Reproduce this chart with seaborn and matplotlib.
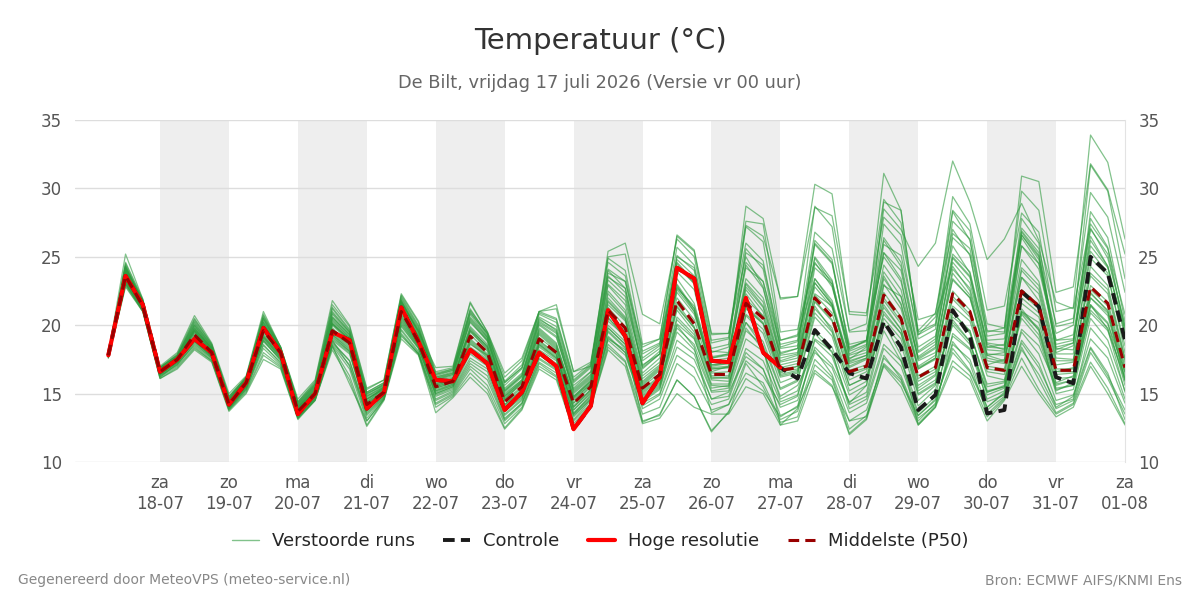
import pandas as pd
import seaborn as sns
import matplotlib.pyplot as plt
from matplotlib.lines import Line2D

# uren na vr 17-07 00 uur, stappen van 6 uur (06 uur t/m za 01-08 00 uur)
hours = list(range(6, 361, 6))

day_names = ['za', 'zo', 'ma', 'di', 'wo', 'do', 'vr', 'za', 'zo', 'ma', 'di', 'wo', 'do', 'vr', 'za']
day_dates = ['18-07', '19-07', '20-07', '21-07', '22-07', '23-07', '24-07', '25-07',
             '26-07', '27-07', '28-07', '29-07', '30-07', '31-07', '01-08']

# hoge resolutie loopt tot ma 27-07 00 uur
hires = [17.8, 23.6, 21.5, 16.6, 17.5, 19.0, 18.0, 14.2, 15.8, 19.8, 18.0, 13.5, 15.0, 19.5,
         18.9, 13.9, 15.1, 21.3, 18.8, 16.0, 15.9, 18.2, 17.2, 13.8, 15.1, 18.0, 17.0, 12.4,
         14.1, 21.1, 19.2, 14.3, 16.2, 24.2, 23.4, 17.4, 17.3, 22.0, 18.0, 16.9]

control = [17.8, 23.6, 21.5, 16.6, 17.5, 19.0, 18.0, 14.2, 15.8, 19.8, 18.0, 13.5, 15.0, 19.5,
           18.9, 13.9, 15.1, 21.3, 18.8, 16.0, 15.9, 18.2, 17.2, 13.8, 15.1, 18.0, 17.0, 12.4,
           14.1, 21.1, 19.2, 14.3, 16.2, 24.2, 23.4, 17.4, 17.3, 22.0, 18.0, 16.9, 16.1, 19.65,
           18.2, 16.5, 16.1, 20.25, 18.4, 13.8, 14.9, 21.1, 19.2, 13.55, 13.8, 22.45, 21.35,
           16.2, 15.75, 25.0, 23.8, 18.9]

median = [17.8, 23.6, 21.4, 16.6, 17.5, 19.3, 18.0, 14.2, 15.8, 19.6, 18.0, 13.7, 15.0, 19.6,
          18.7, 14.2, 15.1, 21.0, 18.8, 15.5, 15.9, 19.2, 18.0, 14.4, 15.5, 19.0, 18.0, 14.3,
          15.5, 21.1, 19.8, 15.4, 16.4, 21.8, 20.1, 16.4, 16.4, 21.6, 20.5, 16.7, 16.9, 22.0,
          20.6, 16.6, 17.0, 22.2, 20.5, 16.2, 16.9, 22.3, 21.0, 16.9, 16.7, 22.5, 21.4, 16.7,
          16.7, 22.8, 21.6, 16.9]

# verstoorde runs (per dag: 00, 06, 12, 18 uur)
runs = [
    [17.8, 23.9, 21.6, 16.7, 17.6, 19.6, 18.2, 14.4, 15.9, 19.9, 18.1, 13.9, 15.2, 20.1, 18.9,
     14.4, 15.3, 21.4, 19.1, 15.8, 16.1, 19.8, 18.4, 14.8, 15.9, 19.6, 18.5, 14.7, 15.9, 22.0, 20.6,
     15.9, 17.0, 22.9, 21.0, 17.0, 17.2, 23.0, 21.4, 17.3, 17.6, 23.4, 21.8, 17.4, 17.8, 23.6, 21.5,
     16.8, 17.5, 23.8, 22.2, 17.6, 17.3, 24.0, 22.6, 17.4, 17.4, 24.3, 22.9, 17.6],
    [17.7, 23.0, 21.1, 16.3, 17.1, 18.6, 17.6, 13.9, 15.4, 18.5, 17.3, 13.3, 14.6, 18.7, 17.4,
     13.4, 14.7, 19.6, 18.0, 14.6, 15.2, 17.4, 16.6, 13.2, 14.3, 17.6, 16.8, 13.1, 14.5, 19.0, 18.2,
     14.1, 14.9, 18.4, 17.5, 14.6, 14.8, 18.3, 17.4, 14.4, 14.9, 19.0, 18.1, 13.9, 14.6, 18.6, 17.4,
     14.1, 15.3, 19.2, 18.2, 14.6, 15.2, 19.5, 17.9, 14.5, 14.9, 19.0, 17.6, 14.3],
    [17.9, 24.2, 21.8, 16.9, 17.8, 20.1, 18.5, 14.6, 16.1, 20.3, 18.3, 14.0, 15.4, 20.6, 19.3,
     14.8, 15.5, 21.8, 19.4, 16.0, 16.4, 20.5, 19.0, 15.2, 16.3, 20.2, 19.4, 15.1, 16.2, 23.5, 22.7,
     16.8, 17.9, 24.8, 23.6, 17.6, 17.9, 25.6, 24.1, 18.3, 18.5, 26.2, 24.8, 18.1, 18.6, 27.4, 25.9,
     19.0, 19.7, 28.3, 26.2, 20.1, 19.8, 29.8, 28.4, 21.0, 21.3, 33.9, 31.9, 26.3],
    [17.6, 22.9, 21.0, 16.1, 16.9, 18.3, 17.4, 13.8, 15.1, 17.8, 16.9, 13.2, 14.5, 18.4, 16.3,
     12.7, 14.6, 19.3, 17.9, 14.0, 14.8, 16.5, 15.3, 12.5, 13.9, 17.0, 16.2, 12.4, 14.0, 18.4, 17.3,
     13.0, 13.4, 16.0, 14.8, 12.3, 13.6, 17.2, 15.5, 12.9, 13.3, 17.1, 16.0, 12.1, 13.2, 17.8, 16.1,
     13.0, 14.3, 18.6, 17.5, 14.0, 15.1, 21.0, 20.2, 15.8, 16.3, 21.5, 19.7, 15.1],
    [17.8, 24.6, 21.9, 16.9, 17.9, 20.5, 18.6, 14.8, 16.2, 20.7, 18.4, 14.4, 15.8, 21.3, 19.7,
     15.1, 15.8, 22.0, 19.9, 16.2, 16.6, 21.0, 19.2, 15.6, 16.8, 20.6, 19.9, 15.8, 16.9, 25.4, 26.0,
     20.8, 20.1, 26.3, 25.0, 18.9, 19.1, 27.6, 27.4, 19.5, 19.7, 24.6, 22.8, 18.3, 18.9, 25.3, 23.4,
     17.4, 18.0, 24.9, 23.5, 18.7, 18.5, 25.8, 24.1, 18.9, 19.0, 26.5, 24.3, 19.4],
    [17.8, 23.3, 21.3, 16.5, 17.4, 19.0, 17.9, 14.1, 15.7, 19.2, 17.8, 13.6, 14.9, 19.3, 18.3,
     14.0, 15.0, 20.6, 18.6, 15.3, 15.7, 18.7, 17.6, 14.1, 15.2, 18.5, 17.6, 14.0, 15.2, 20.3, 19.2,
     15.0, 16.0, 21.1, 19.5, 16.0, 15.9, 20.8, 19.7, 16.2, 16.5, 21.2, 19.8, 16.0, 16.6, 21.5, 19.7,
     15.6, 16.4, 21.4, 20.3, 16.3, 16.0, 21.6, 20.6, 16.1, 16.2, 22.0, 20.9, 16.4],
    [17.9, 24.0, 21.7, 16.8, 17.7, 19.8, 18.3, 14.5, 16.0, 20.1, 18.2, 14.1, 15.5, 20.4, 19.1,
     14.6, 15.4, 21.7, 19.6, 16.2, 16.5, 20.2, 18.9, 15.0, 16.0, 20.0, 19.1, 15.3, 16.4, 23.0, 21.8,
     17.1, 17.9, 25.1, 24.0, 18.0, 18.4, 28.7, 27.8, 21.9, 22.1, 30.3, 29.6, 20.8, 20.7, 29.2, 27.5,
     19.6, 20.9, 27.0, 25.1, 19.2, 19.4, 26.6, 25.0, 18.6, 18.9, 25.8, 24.2, 19.7],
    [17.7, 23.2, 21.2, 16.4, 17.3, 18.9, 17.8, 14.0, 15.6, 19.0, 17.6, 13.5, 14.8, 19.0, 18.0,
     13.9, 14.9, 20.1, 18.4, 15.0, 15.5, 18.1, 17.3, 13.8, 14.9, 18.2, 17.4, 13.6, 14.8, 19.8, 18.6,
     14.4, 15.3, 19.5, 18.2, 15.1, 15.2, 19.0, 18.1, 14.8, 15.6, 18.2, 16.4, 13.0, 13.8, 17.2, 16.0,
     12.8, 14.1, 17.4, 16.3, 13.3, 14.6, 17.6, 15.3, 13.5, 14.2, 17.3, 15.4, 12.8],
    [17.8, 24.4, 21.5, 16.6, 17.5, 19.5, 18.0, 14.3, 15.8, 19.8, 18.0, 13.8, 15.1, 20.0, 18.8,
     14.3, 15.2, 21.1, 18.9, 15.6, 16.0, 19.5, 18.3, 14.6, 15.7, 19.4, 18.3, 14.5, 15.7, 21.7, 20.4,
     15.6, 16.7, 22.6, 21.0, 16.8, 16.9, 23.1, 21.7, 17.4, 17.8, 24.5, 23.2, 18.2, 18.9, 28.5, 27.0,
     24.3, 26.0, 32.0, 29.0, 24.8, 26.3, 28.9, 26.2, 21.7, 21.2, 27.4, 25.6, 20.8],
    [17.7, 23.4, 21.2, 16.4, 17.3, 18.8, 17.7, 14.0, 15.5, 18.9, 17.5, 13.4, 14.8, 18.9, 17.0,
     13.5, 14.8, 19.9, 18.3, 14.9, 15.4, 17.9, 17.0, 13.5, 14.6, 18.0, 17.1, 13.4, 14.6, 19.2, 18.0,
     14.6, 15.5, 20.4, 19.1, 15.4, 15.6, 20.2, 18.8, 15.4, 16.0, 20.9, 19.5, 15.6, 16.2, 20.8, 19.4,
     15.2, 16.0, 20.6, 19.6, 15.5, 15.8, 20.8, 19.3, 15.4, 15.6, 21.1, 19.8, 15.9],
    [17.9, 24.1, 21.6, 16.7, 17.6, 19.7, 18.3, 14.5, 16.0, 20.0, 18.2, 14.0, 15.3, 20.2, 19.0,
     14.5, 15.5, 21.5, 19.2, 15.9, 16.2, 19.9, 18.6, 14.9, 16.0, 19.8, 18.7, 14.8, 16.0, 22.3, 20.9,
     16.1, 17.1, 23.4, 21.6, 17.1, 17.2, 23.4, 22.0, 17.8, 18.0, 24.9, 23.0, 17.9, 18.5, 25.3, 24.0,
     18.0, 18.8, 26.7, 25.6, 19.6, 19.5, 30.9, 30.5, 22.4, 22.8, 31.8, 29.9, 25.2],
    [17.8, 23.5, 21.4, 16.5, 17.4, 19.2, 17.9, 14.2, 15.7, 19.4, 17.9, 13.7, 14.9, 19.5, 18.5,
     14.1, 15.1, 20.7, 18.6, 15.4, 15.8, 18.6, 17.8, 14.0, 15.1, 18.8, 17.9, 13.8, 15.0, 20.6, 19.0,
     12.9, 13.5, 16.0, 14.8, 12.2, 13.7, 16.1, 15.2, 13.3, 14.1, 18.4, 17.1, 14.4, 15.1, 20.1, 18.6,
     14.5, 15.6, 21.0, 19.4, 15.7, 15.9, 20.5, 19.0, 15.2, 15.8, 20.9, 19.6, 16.2],
    [17.9, 24.3, 21.8, 16.9, 17.8, 20.2, 18.4, 14.7, 16.1, 20.5, 18.3, 14.3, 15.7, 21.0, 19.5,
     14.9, 15.7, 21.9, 19.8, 16.1, 16.5, 20.8, 19.1, 15.4, 16.5, 20.5, 19.6, 15.6, 16.6, 24.0, 22.7,
     17.4, 18.3, 24.6, 23.2, 18.1, 18.0, 24.4, 22.7, 17.9, 18.3, 25.9, 24.5, 18.6, 18.9, 26.4, 24.6,
     18.4, 19.2, 25.2, 23.9, 18.6, 18.2, 27.8, 26.0, 18.0, 18.5, 28.3, 26.4, 20.3],
    [17.7, 23.1, 21.1, 16.2, 17.2, 18.5, 17.5, 13.9, 15.3, 18.3, 17.1, 13.2, 14.6, 18.5, 16.8,
     13.0, 14.6, 19.4, 17.9, 14.3, 15.0, 17.0, 16.0, 13.0, 14.2, 17.3, 16.5, 12.8, 14.2, 18.9, 17.8,
     14.3, 15.0, 18.9, 17.9, 14.6, 15.1, 17.7, 16.8, 13.4, 14.0, 16.7, 15.6, 12.0, 13.1, 17.1, 15.8,
     13.4, 14.5, 18.3, 16.7, 14.0, 15.0, 18.9, 17.2, 14.0, 14.8, 18.4, 16.5, 13.1],
    [17.8, 23.7, 21.4, 16.6, 17.5, 19.4, 18.1, 14.2, 15.8, 19.5, 18.1, 13.7, 15.0, 19.7, 18.7,
     14.2, 15.2, 21.1, 18.8, 15.5, 15.9, 19.3, 18.1, 14.5, 15.5, 19.1, 18.1, 14.3, 15.6, 21.3, 19.9,
     15.5, 16.5, 22.0, 20.4, 16.5, 16.6, 21.9, 20.7, 16.8, 17.0, 22.2, 20.9, 16.7, 17.1, 22.4, 20.6,
     16.3, 17.0, 22.5, 21.1, 17.0, 16.8, 22.6, 21.5, 16.8, 16.8, 22.9, 21.7, 17.0],
    [17.8, 24.0, 21.7, 16.8, 17.7, 20.0, 18.4, 14.6, 16.1, 20.4, 18.3, 14.2, 15.6, 20.8, 19.4,
     15.0, 15.6, 21.7, 19.6, 16.3, 16.7, 20.9, 19.4, 15.8, 16.9, 20.8, 20.2, 15.9, 17.0, 24.6, 23.6,
     17.9, 18.6, 25.7, 24.4, 18.7, 19.0, 27.2, 26.1, 18.9, 19.2, 23.4, 21.6, 16.9, 17.5, 21.3, 19.7,
     15.4, 16.3, 20.0, 18.6, 15.1, 15.5, 19.7, 18.5, 15.6, 16.0, 21.4, 20.1, 16.6],
    [17.7, 23.3, 21.3, 16.4, 17.3, 18.9, 17.7, 14.0, 15.5, 19.1, 17.6, 13.5, 14.8, 19.2, 18.1,
     13.8, 14.9, 20.3, 18.5, 15.2, 15.7, 18.3, 17.4, 13.7, 14.8, 18.4, 17.5, 13.5, 14.9, 19.6, 18.4,
     14.8, 15.7, 20.1, 19.0, 15.6, 15.5, 20.7, 19.4, 15.8, 16.3, 22.3, 21.4, 17.5, 18.4, 29.0, 28.4,
     19.3, 20.6, 24.3, 22.5, 17.1, 17.5, 23.5, 21.8, 16.6, 16.9, 22.4, 21.0, 16.0],
    [17.6, 22.8, 21.0, 16.1, 16.8, 18.2, 17.3, 13.7, 15.0, 17.5, 16.8, 13.1, 14.5, 18.2, 16.0,
     12.6, 14.5, 19.0, 17.8, 13.6, 14.7, 16.2, 15.0, 12.4, 13.8, 16.8, 16.0, 12.3, 14.0, 18.2, 17.0,
     12.8, 13.2, 15.0, 14.0, 13.5, 13.5, 15.5, 15.0, 12.7, 13.0, 16.5, 15.5, 13.0, 13.3, 17.0, 15.5,
     12.7, 14.0, 17.0, 16.0, 13.0, 14.5, 17.0, 15.0, 13.3, 14.0, 17.0, 15.0, 12.7],
    [17.9, 25.2, 21.9, 17.0, 18.0, 20.7, 18.7, 15.0, 16.3, 21.0, 18.4, 14.6, 16.0, 21.8, 20.0,
     15.4, 16.0, 22.3, 20.3, 16.6, 16.9, 21.6, 19.5, 16.2, 17.4, 21.0, 21.2, 16.6, 17.3, 25.0, 25.2,
     18.6, 19.0, 26.5, 25.4, 19.3, 19.4, 25.0, 22.8, 17.6, 17.9, 23.1, 21.5, 17.2, 17.6, 23.0, 21.2,
     16.8, 17.6, 23.3, 22.0, 17.8, 17.4, 24.2, 22.9, 17.6, 17.5, 23.6, 22.3, 17.3],
    [17.8, 23.5, 21.3, 16.5, 17.4, 19.1, 17.9, 14.1, 15.6, 19.3, 17.8, 13.6, 14.9, 19.4, 18.4,
     14.1, 15.1, 20.8, 18.7, 15.4, 15.8, 18.9, 17.8, 14.2, 15.3, 18.7, 17.8, 14.1, 15.3, 20.8, 19.4,
     15.2, 16.2, 21.4, 19.8, 16.2, 16.1, 21.2, 20.1, 16.4, 16.7, 21.7, 20.3, 16.3, 16.8, 21.8, 20.1,
     15.9, 16.6, 21.9, 20.6, 16.6, 16.4, 22.0, 20.9, 16.4, 16.5, 22.3, 21.1, 16.6],
    [17.8, 23.8, 21.5, 16.6, 17.6, 19.6, 18.1, 14.3, 15.9, 19.7, 18.0, 13.8, 15.1, 19.8, 18.6,
     14.3, 15.2, 21.2, 18.9, 15.6, 16.0, 19.6, 18.2, 14.6, 15.8, 19.3, 18.2, 14.6, 15.7, 21.5, 20.3,
     15.7, 16.8, 22.4, 20.8, 16.8, 16.9, 20.2, 18.4, 12.7, 13.9, 18.9, 17.7, 14.3, 15.6, 22.9, 22.1,
     17.7, 18.6, 26.4, 25.2, 18.4, 18.6, 26.9, 25.3, 18.3, 18.2, 24.9, 23.6, 18.5],
    [17.8, 24.2, 21.6, 16.7, 17.7, 19.8, 18.2, 14.4, 16.0, 20.2, 18.2, 14.0, 15.4, 20.5, 19.2,
     14.7, 15.5, 21.6, 19.3, 16.0, 16.3, 20.3, 18.8, 15.1, 16.2, 20.1, 19.2, 15.0, 16.1, 22.9, 21.5,
     16.5, 17.6, 23.9, 22.6, 17.4, 17.6, 24.6, 23.2, 18.0, 18.3, 26.0, 24.6, 18.4, 18.8, 26.2, 24.3,
     18.1, 19.0, 27.6, 26.3, 18.9, 19.0, 26.6, 24.8, 18.2, 18.7, 27.8, 25.7, 19.5],
    [17.7, 23.4, 21.3, 16.5, 17.4, 19.0, 17.8, 14.1, 15.6, 19.1, 17.7, 13.5, 14.8, 19.3, 18.2,
     13.9, 15.0, 20.4, 18.5, 15.1, 15.6, 18.4, 17.5, 13.9, 15.0, 18.6, 17.7, 13.8, 15.1, 20.0, 18.8,
     14.9, 15.8, 20.6, 19.3, 15.7, 15.7, 19.8, 18.2, 14.6, 15.2, 19.4, 18.0, 14.2, 14.8, 19.6, 17.4,
     13.6, 14.8, 20.2, 18.8, 14.4, 14.9, 18.7, 16.9, 14.2, 14.6, 19.8, 18.3, 14.6],
    [17.8, 23.9, 21.6, 16.7, 17.6, 19.5, 18.2, 14.4, 15.9, 19.8, 18.1, 13.9, 15.2, 20.1, 18.9,
     14.4, 15.4, 21.3, 19.0, 15.7, 16.1, 19.7, 18.4, 14.7, 15.8, 19.5, 18.4, 14.7, 15.8, 21.8, 20.5,
     15.8, 16.9, 22.8, 21.2, 16.9, 17.0, 22.8, 21.3, 17.1, 17.4, 23.1, 21.5, 17.0, 17.6, 23.4, 21.6,
     16.9, 17.6, 24.1, 22.7, 17.9, 17.8, 25.8, 24.5, 19.4, 20.0, 31.7, 29.8, 23.4],
    [17.8, 23.6, 21.4, 16.6, 17.5, 19.3, 18.0, 14.2, 15.7, 19.6, 17.9, 13.7, 15.0, 19.5, 18.6,
     14.2, 15.1, 20.9, 18.8, 15.5, 15.9, 19.0, 17.9, 14.4, 15.4, 18.9, 17.9, 14.3, 15.5, 20.9, 19.6,
     15.3, 16.3, 21.6, 19.9, 16.3, 16.3, 21.4, 20.2, 16.6, 16.8, 21.8, 20.4, 16.5, 16.9, 22.0, 20.3,
     16.1, 16.8, 22.1, 20.8, 16.8, 16.6, 22.3, 21.2, 16.6, 16.6, 22.6, 21.4, 16.8],
    [17.9, 24.5, 21.8, 16.9, 17.8, 20.4, 18.6, 14.8, 16.2, 20.8, 18.4, 14.4, 15.9, 21.5, 19.9,
     15.3, 16.0, 22.2, 20.2, 16.5, 16.8, 21.2, 19.3, 15.9, 17.1, 21.0, 20.5, 16.2, 17.2, 24.1, 23.2,
     17.6, 18.5, 25.0, 24.2, 18.3, 18.6, 27.3, 26.5, 22.0, 22.1, 28.6, 28.0, 21.0, 20.9, 27.9, 26.6,
     20.4, 20.8, 28.4, 26.9, 19.5, 19.8, 27.1, 25.6, 20.1, 20.5, 29.7, 27.9, 22.4],
    [17.7, 23.2, 21.2, 16.4, 17.2, 18.8, 17.7, 14.0, 15.4, 18.8, 17.5, 13.4, 14.7, 18.8, 17.4,
     13.6, 14.8, 20.0, 18.3, 14.8, 15.3, 17.6, 16.8, 13.4, 14.5, 17.8, 17.0, 13.3, 14.6, 19.5, 18.3,
     14.5, 15.4, 19.8, 18.6, 15.2, 15.4, 19.6, 18.5, 15.3, 15.9, 20.6, 19.2, 15.2, 15.9, 20.5, 19.0,
     14.9, 15.7, 20.9, 19.6, 15.2, 15.5, 21.2, 19.6, 15.0, 15.3, 20.5, 18.9, 15.2],
    [17.8, 24.1, 21.7, 16.8, 17.7, 20.0, 18.3, 14.6, 16.1, 20.5, 18.3, 14.2, 15.6, 20.9, 19.5,
     15.0, 15.7, 21.8, 19.7, 16.4, 16.8, 21.1, 19.4, 15.8, 16.9, 20.9, 20.4, 16.0, 17.1, 24.9, 24.0,
     18.1, 18.7, 24.5, 23.0, 17.6, 17.8, 24.2, 23.2, 18.6, 18.9, 26.8, 25.6, 19.6, 20.1, 31.1, 28.4,
     19.3, 20.0, 25.8, 23.8, 18.4, 18.3, 26.4, 24.5, 18.4, 18.7, 26.2, 24.3, 19.2],
    [17.7, 23.0, 21.1, 16.3, 17.1, 18.7, 17.6, 13.9, 15.3, 18.6, 17.2, 13.3, 14.6, 18.6, 17.1,
     13.2, 14.7, 19.7, 18.1, 14.5, 15.1, 17.2, 16.3, 13.1, 14.3, 17.5, 16.7, 13.0, 14.3, 19.1, 18.0,
     13.9, 14.6, 17.8, 16.9, 14.2, 14.6, 18.0, 16.8, 14.0, 14.5, 18.0, 16.9, 13.6, 14.3, 18.3, 17.0,
     13.4, 14.6, 18.0, 16.6, 13.8, 14.8, 18.2, 16.4, 13.9, 14.5, 18.3, 16.3, 13.8],
    [17.8, 23.8, 21.5, 16.7, 17.6, 19.6, 18.1, 14.3, 15.9, 19.8, 18.1, 13.8, 15.2, 20.1, 19.0,
     14.6, 15.3, 21.4, 19.2, 15.7, 16.1, 19.6, 18.5, 14.8, 15.9, 19.7, 18.6, 14.8, 15.9, 22.5, 21.1,
     16.3, 17.3, 22.7, 21.4, 17.1, 17.3, 22.3, 20.6, 16.5, 17.0, 24.2, 23.0, 17.6, 18.0, 24.4, 22.6,
     17.5, 18.3, 25.0, 23.6, 17.8, 18.0, 24.8, 23.2, 17.9, 17.9, 25.4, 23.8, 18.0],
    [17.8, 24.0, 21.6, 16.7, 17.6, 19.7, 18.3, 14.5, 15.9, 20.0, 18.2, 13.9, 15.3, 20.3, 19.1,
     14.6, 15.4, 21.6, 19.5, 16.9, 17.0, 21.7, 19.5, 16.5, 17.6, 21.0, 21.5, 16.6, 17.0, 23.6, 22.4,
     17.0, 18.1, 23.0, 21.2, 16.6, 17.0, 22.6, 21.0, 16.9, 17.2, 22.8, 21.3, 17.3, 17.8, 23.9, 22.1,
     17.0, 17.8, 23.4, 22.0, 17.4, 17.2, 23.5, 22.3, 17.1, 17.3, 23.8, 22.6, 17.5],
    [17.7, 23.1, 21.0, 16.2, 17.0, 18.4, 17.4, 13.8, 15.2, 18.0, 17.0, 13.2, 14.5, 18.5, 15.7,
     13.0, 14.6, 19.2, 17.9, 14.2, 14.9, 16.8, 15.6, 12.8, 14.0, 17.2, 16.3, 12.6, 14.1, 18.6, 17.4,
     13.5, 14.0, 17.2, 16.2, 13.8, 14.2, 16.5, 15.8, 13.1, 13.7, 17.5, 16.2, 12.4, 13.4, 17.6, 16.3,
     13.2, 14.2, 18.8, 17.2, 13.5, 14.7, 18.4, 16.0, 13.6, 14.3, 18.0, 16.1, 13.5],
    [17.9, 24.3, 21.7, 16.8, 17.7, 20.3, 18.5, 14.7, 16.2, 20.6, 18.4, 14.3, 15.7, 21.2, 19.6,
     15.1, 15.8, 22.1, 20.0, 16.4, 16.7, 20.6, 19.1, 15.3, 16.4, 20.4, 19.7, 15.4, 16.6, 23.8, 23.2,
     18.4, 19.0, 26.6, 25.5, 19.4, 19.4, 26.0, 24.7, 18.4, 18.8, 25.0, 23.3, 17.8, 18.2, 25.9, 25.1,
     19.5, 20.1, 29.4, 27.4, 21.1, 21.4, 28.2, 26.8, 19.9, 20.2, 27.1, 24.9, 20.0],
    [17.8, 23.4, 21.3, 16.5, 17.4, 19.1, 17.9, 14.1, 15.6, 19.2, 17.7, 13.6, 14.9, 19.1, 18.1,
     13.8, 15.0, 20.5, 18.6, 15.2, 15.6, 18.8, 17.7, 14.2, 15.2, 18.6, 17.6, 14.0, 15.3, 20.5, 19.3,
     15.1, 16.1, 21.3, 19.8, 16.1, 16.2, 21.3, 20.1, 16.3, 16.6, 21.4, 19.6, 15.6, 16.2, 20.2, 17.8,
     12.7, 14.0, 19.4, 18.3, 15.1, 15.6, 21.0, 19.8, 15.7, 16.0, 22.0, 20.7, 16.0],
    [17.8, 24.1, 21.6, 16.7, 17.6, 19.9, 18.3, 14.5, 16.0, 20.2, 18.2, 14.1, 15.5, 20.6, 19.3,
     14.8, 15.6, 21.7, 19.5, 16.1, 16.4, 20.4, 18.9, 15.2, 16.3, 20.3, 19.5, 15.2, 16.3, 23.3, 22.1,
     16.9, 17.9, 24.2, 23.1, 17.7, 17.9, 25.3, 24.4, 18.9, 19.3, 28.7, 27.2, 19.5, 19.6, 25.0, 23.2,
     17.6, 18.4, 24.6, 23.1, 18.2, 18.1, 26.8, 25.1, 18.9, 19.3, 27.0, 25.2, 19.9],
    [17.7, 23.3, 21.2, 16.4, 17.3, 18.9, 17.8, 14.0, 15.5, 18.9, 17.4, 13.4, 14.7, 18.9, 17.9,
     13.7, 14.9, 20.2, 18.4, 15.0, 15.5, 18.2, 17.3, 13.7, 14.7, 18.1, 17.2, 13.5, 14.7, 19.8, 18.6,
     14.7, 15.6, 20.0, 18.4, 13.6, 14.2, 17.4, 16.3, 14.2, 14.8, 19.6, 18.4, 14.9, 15.6, 21.0, 19.4,
     15.0, 15.8, 20.4, 18.8, 14.9, 15.4, 20.9, 19.7, 15.3, 15.6, 21.5, 20.2, 15.6],
]

rows = []
for i, run in enumerate(runs):
    for h, v in zip(hours, run):
        rows.append({'run': i, 'uur': h, 'temp': v})
df_runs = pd.DataFrame(rows)

sns.set_style('white')
plt.rcParams['font.family'] = ['DejaVu Sans']

fig = plt.figure(figsize=(12, 6), dpi=100)
ax = fig.add_axes([0.0625, 0.23, 0.875, 0.57])

# grijze banden om de dag
for k in range(1, 15, 2):
    ax.axvspan(24 * k, 24 * (k + 1), color='#eeeeee', lw=0, zorder=0)

green = '#2e9a3e'
sns.lineplot(data=df_runs, x='uur', y='temp', units='run', estimator=None,
             color=green, alpha=0.6, lw=0.9, legend=False, ax=ax, zorder=2)
sns.lineplot(x=hours, y=control, color='#1a1a1a', lw=2.8, linestyle=(0, (3, 1.6)), ax=ax, zorder=3)
sns.lineplot(x=hours[:len(hires)], y=hires, color='#ff0000', lw=3, ax=ax, zorder=4)
sns.lineplot(x=hours, y=median, color='#990000', lw=2.2, linestyle=(0, (3.5, 2)), ax=ax, zorder=5)

ax.set_xlim(-5.6, 360)
ax.set_ylim(10, 35)
ax.set_yticks(range(10, 36, 5))
ax.set_xticks(range(24, 361, 24))
ax.set_xticklabels([f'{d}\n{dt}' for d, dt in zip(day_names, day_dates)])
ax.set_xlabel('')
ax.set_ylabel('')
ax.grid(axis='y', color='#dddddd', lw=1)
ax.set_axisbelow(True)
ax.tick_params(axis='y', left=False, right=False, labelleft=True, labelright=True,
               labelsize=12, labelcolor='#555555', pad=6)
ax.tick_params(axis='x', length=6, width=1.5, color='#666666', labelsize=12,
               labelcolor='#555555', pad=3)
for s in ['top', 'left', 'bottom']:
    ax.spines[s].set_visible(False)
ax.spines['right'].set_color('#e3e3e3')

fig.text(0.5, 1 - 41 / 600, 'Temperatuur (°C)', ha='center', va='center', fontsize=21, color='#333333')
fig.text(0.5, 1 - 83 / 600, 'De Bilt, vrijdag 17 juli 2026 (Versie vr 00 uur)', ha='center',
         va='center', fontsize=12.8, color='#666666')

handles = [
    Line2D([], [], color=green, alpha=0.6, lw=1),
    Line2D([], [], color='#1a1a1a', lw=2.8, linestyle=(0, (3, 1.6))),
    Line2D([], [], color='#ff0000', lw=3),
    Line2D([], [], color='#990000', lw=2.2, linestyle=(0, (3.5, 2))),
]
labels = ['Verstoorde runs', 'Controle', 'Hoge resolutie', 'Middelste (P50)']
fig.legend(handles, labels, loc='center', bbox_to_anchor=(0.5, 1 - 541 / 600), ncol=4,
           frameon=False, fontsize=13, handlelength=1.5, handletextpad=0.7, columnspacing=1.6)

fig.text(18 / 1200, 1 - 580 / 600, 'Gegenereerd door MeteoVPS (meteo-service.nl)', ha='left',
         va='center', fontsize=10, color='#888888')
fig.text(1182 / 1200, 1 - 580 / 600, 'Bron: ECMWF AIFS/KNMI Ens', ha='right', va='center',
         fontsize=10, color='#888888')

fig.savefig('out.png', dpi=100)
